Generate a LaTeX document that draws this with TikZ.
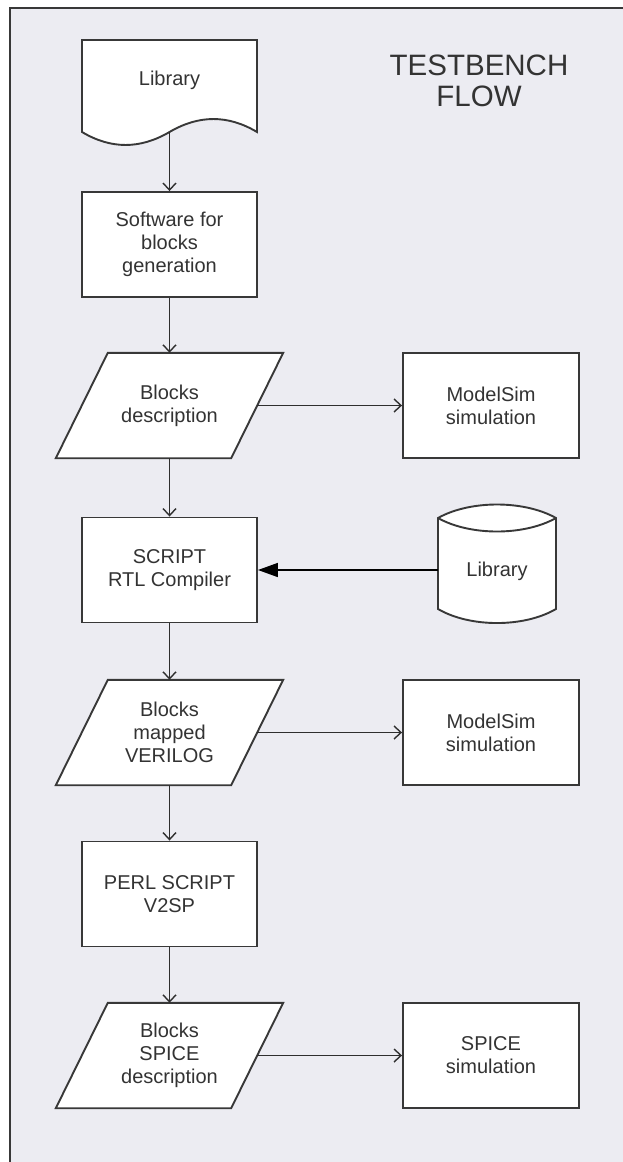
\documentclass[tikz,border=0pt]{standalone}
\usepackage{fontspec}
\setmainfont{Liberation Sans}
\usetikzlibrary{arrows.meta,calc}
\pgfdeclarelayer{bg}
\pgfdeclarelayer{mid}
\pgfsetlayers{bg,mid,main}
\definecolor{framebg}{HTML}{ECECF2}
\definecolor{lineclr}{HTML}{383838}
\definecolor{connclr}{HTML}{2E2E2E}
\definecolor{textclr}{HTML}{333333}
\newcommand\mypgram[1]{\path[shapeline] ([xshift=-26pt]#1.south west) -- ([xshift=26pt]#1.north west) -- ([xshift=26pt]#1.north east) -- ([xshift=-26pt]#1.south east) -- cycle;}
\begin{document}
\begin{tikzpicture}[x=1pt,y=-1pt,
  txt/.style={font=\fontsize{20}{23}\selectfont, text=textclr, align=center, inner sep=0pt},
  boxnode/.style={txt, draw=lineclr, line width=1.9pt, fill=white, minimum width=175pt, minimum height=105pt},
  paranode/.style={txt, minimum width=175pt, minimum height=105pt},
  shapeline/.style={draw=lineclr, line width=1.9pt, fill=white, line join=miter},
  conn/.style={draw=connclr, line width=1.8pt, -{Straight Barb[length=7pt,width=13pt,line width=1.4pt]}},
  fconn/.style={draw=black, line width=1.7pt, -{Triangle[length=20pt,width=14pt]}},
  titletxt/.style={font=\fontsize{29.5}{30.5}\selectfont, text=textclr, align=center, inner sep=0pt}
]
\useasboundingbox (0,0) rectangle (622,1162);
\begin{pgfonlayer}{bg}
  \fill[framebg] (9.5,7.5) rectangle (630,1170);
  \draw[lineclr, line width=2pt] (9.5,1170) -- (9.5,7.5) -- (630,7.5);
\end{pgfonlayer}

% title
\node[titletxt] (title) at (479,81) {TESTBENCH\\FLOW};

% library document
\node[txt] (lib) at (169.5,80) {Library};
\coordinate (libout) at (169.5,132);

% left column
\node[boxnode] (sw) at (169.5,244.5) {Software for\\blocks\\generation};
\node[paranode] (p1) at (169.5,405.5) {Blocks\\description};
\node[boxnode] (scr) at (169.5,570) {SCRIPT\\RTL Compiler};
\node[paranode] (p2) at (169.5,732.5) {Blocks\\mapped\\VERILOG};
\node[boxnode] (perl) at (169.5,894) {PERL SCRIPT\\V2SP};
\node[paranode] (p3) at (169.5,1055.5) {Blocks\\SPICE\\description};

% right column
\node[boxnode, minimum width=176pt] (m1) at (491,405.5) {ModelSim\\simulation};
\node[txt] (cyl) at (497,571) {Library};
\coordinate (cylw) at (438,570);
\node[boxnode, minimum width=176pt] (m2) at (491,732.5) {ModelSim\\simulation};
\node[boxnode, minimum width=176pt] (sp) at (491,1055.5) {SPICE\\simulation};

\begin{pgfonlayer}{mid}
  \path[shapeline] (82,132) -- (82,40) -- (257,40) -- (257,132)
    .. controls (228,114.7) and (199,114.7) .. (169.5,132)
    .. controls (140,149.3) and (111,149.3) .. (82,132) -- cycle;
  \path[shapeline] (438,518) .. controls (470,500) and (524,500) .. (556,518)
    -- (556,609) .. controls (524,627.7) and (470,627.7) .. (438,609) -- cycle;
  \draw[lineclr, line width=1.9pt] (438,518) .. controls (470,536) and (524,536) .. (556,518);
  \mypgram{p1}
  \mypgram{p2}
  \mypgram{p3}
\end{pgfonlayer}

% connectors
\draw[conn] (libout) -- (sw);
\draw[conn] (sw) -- (p1);
\draw[conn] (p1) -- (scr);
\draw[conn] (scr) -- (p2);
\draw[conn] (p2) -- (perl);
\draw[conn] (perl) -- (p3);
\draw[conn] (p1) -- (m1);
\draw[conn] (p2) -- (m2);
\draw[conn] (p3) -- (sp);
\draw[fconn] (cylw) -- (scr.east);
\end{tikzpicture}
\end{document}
